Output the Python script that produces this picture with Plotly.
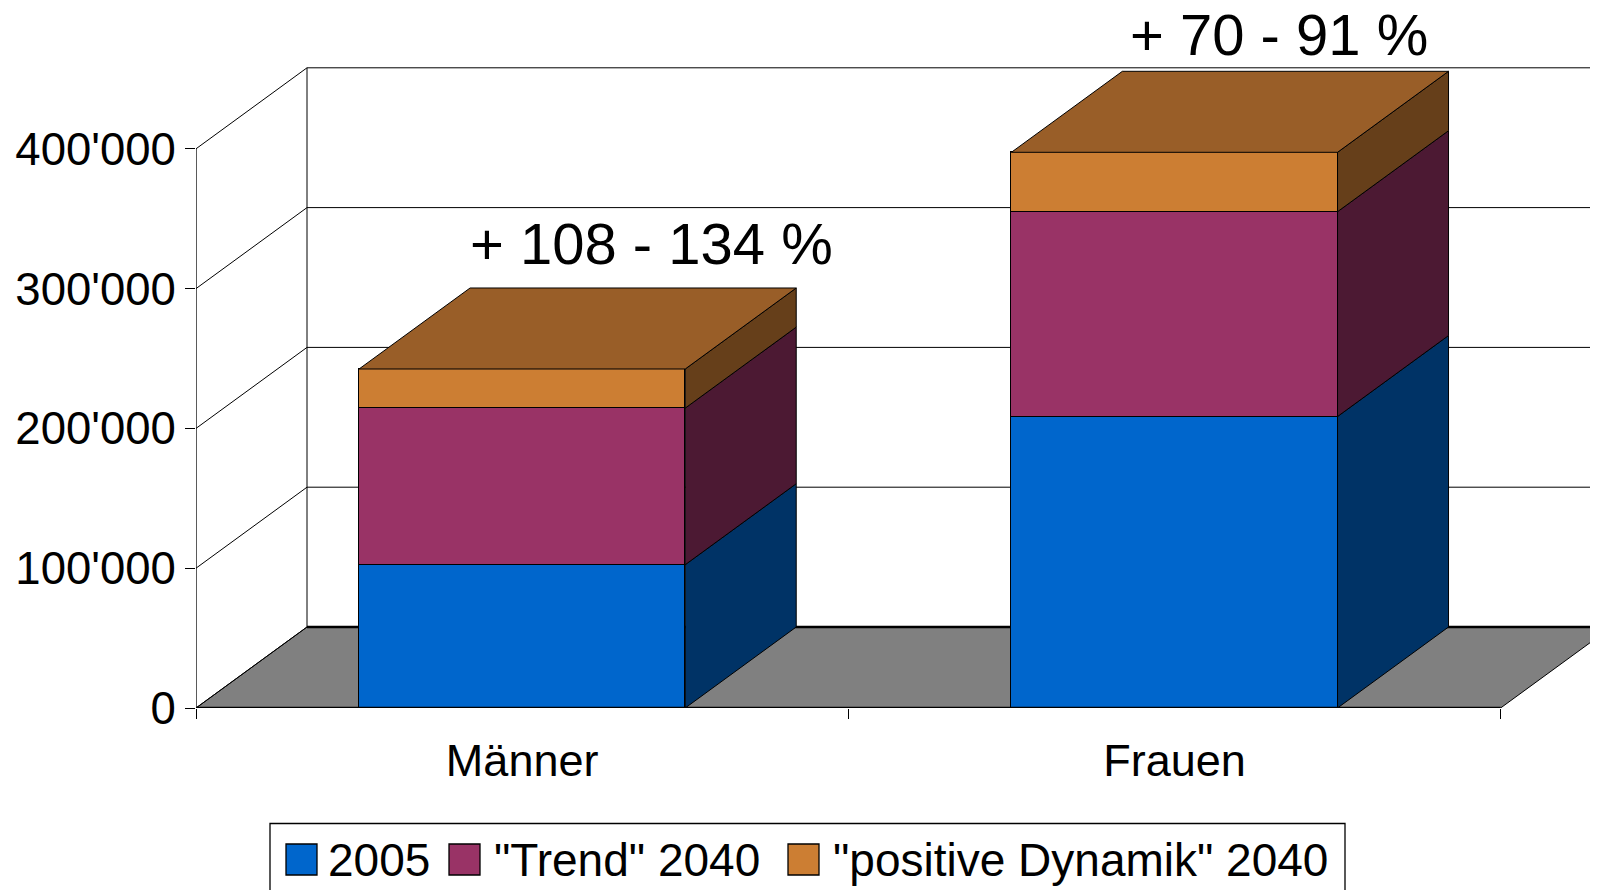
import plotly.graph_objects as go

# ---------------- data ----------------
categories = ["Männer", "Frauen"]
series_names = ["2005", "\"Trend\" 2040", "\"positive Dynamik\" 2040"]
values_2005 = [102500, 208500]
values_trend_2040 = [214500, 355000]          # total level, scenario "Trend"
values_positive_2040 = [242500, 397500]       # total level, scenario "positive Dynamik"
change_labels = ["+ 108 - 134 %", "+ 70 - 91 %"]
ytick_values = [0, 100000, 200000, 300000, 400000]
ytick_labels = ["0", "100'000", "200'000", "300'000", "400'000"]

# stacked increments
seg_trend = [t - a for t, a in zip(values_trend_2040, values_2005)]
seg_pos = [p - t for p, t in zip(values_positive_2040, values_trend_2040)]
segments = [values_2005, seg_trend, seg_pos]

# ---------------- styles / geometry ----------------
FONT = "Liberation Sans, Arial, sans-serif"
OFF = 8                         # page body margin
FIG_W, FIG_H = 1590, 882
M_L = 188
M_B = 182
PX_PER_CAT = 652.3
PX_PER_UNIT = 0.001398
plot_w = FIG_W - M_L
plot_h = FIG_H - M_B
x_range = [-0.5, -0.5 + plot_w / PX_PER_CAT]
y_range = [0, plot_h / PX_PER_UNIT]
DX = 111 / PX_PER_CAT          # depth offset (x, in category units)
DY = 81 / PX_PER_UNIT          # depth offset (y, in value units)
W = 0.5                        # bar width
X0, X1 = -0.5, len(categories) - 0.5

front_colors = ["#0066CC", "#993366", "#CC7E33"]
side_colors = ["#003366", "#4C1933", "#663F1A"]
top_colors = ["#004C99", "#732650", "#995E28"]

xs = list(range(len(categories)))

fig = go.Figure()

# front faces (real stacked bars)
for k, seg in enumerate(segments):
    fig.add_trace(go.Bar(
        x=xs, y=seg, width=W, name=series_names[k],
        marker=dict(color=front_colors[k], line=dict(color="black", width=1)),
        showlegend=False, hoverinfo="skip",
    ))

# side faces
bases = [[0] * len(xs)]
for k in range(1, len(segments)):
    bases.append([b + s for b, s in zip(bases[k - 1], segments[k - 1])])
for k, seg in enumerate(segments):
    px, py = [], []
    for i in xs:
        b = bases[k][i]
        t = b + seg[i]
        xr = i + W / 2
        px += [xr, xr + DX, xr + DX, xr, xr, None]
        py += [b, b + DY, t + DY, t, b, None]
    fig.add_trace(go.Scatter(
        x=px, y=py, mode="lines", fill="toself", fillcolor=side_colors[k],
        line=dict(color="black", width=1), showlegend=False, hoverinfo="skip",
    ))

# top faces
px, py = [], []
for i in xs:
    T = values_positive_2040[i]
    xl, xr = i - W / 2, i + W / 2
    px += [xl, xl + DX, xr + DX, xr, xl, None]
    py += [T, T + DY, T + DY, T, T, None]
fig.add_trace(go.Scatter(
    x=px, y=py, mode="lines", fill="toself", fillcolor=top_colors[2],
    line=dict(color="black", width=1), showlegend=False, hoverinfo="skip",
))

# ---------------- walls, floor, gridlines ----------------
shapes = []
shapes.append(dict(
    type="path", xref="x", yref="y", layer="below",
    path=f"M {X0},0 L {X1},0 L {X1 + DX},{DY} L {X0 + DX},{DY} Z",
    fillcolor="#808080", line=dict(color="black", width=1),
))
for v in ytick_values:
    shapes.append(dict(type="line", xref="x", yref="y", layer="below",
                       x0=X0 + DX, y0=v + DY, x1=x_range[1] + 0.2, y1=v + DY,
                       line=dict(color="black", width=2.5 if v == 0 else 1)))
    shapes.append(dict(type="line", xref="x", yref="y", layer="below",
                       x0=X0, y0=v, x1=X0 + DX, y1=v + DY,
                       line=dict(color="black", width=1)))
shapes.append(dict(type="line", xref="x", yref="y", layer="below",
                   x0=X0 + DX, y0=DY, x1=X0 + DX, y1=ytick_values[-1] + DY,
                   line=dict(color="black", width=1)))
shapes.append(dict(type="line", xref="x", yref="y", layer="below",
                   x0=X0, y0=0, x1=X0, y1=ytick_values[-1],
                   line=dict(color="black", width=1.3)))
shapes.append(dict(type="line", xref="x", yref="y", layer="above",
                   x0=X0, y0=0, x1=X1, y1=0,
                   line=dict(color="black", width=2.5)))


# ---------------- custom legend (positions in page pixels) ----------------
def pxx(p):
    return (p - OFF - M_L) / plot_w


def pxy(p):
    return (plot_h - (p - OFF)) / plot_h


shapes.append(dict(type="rect", xref="paper", yref="paper",
                   x0=pxx(270), x1=pxx(1345), y0=pxy(823.5), y1=pxy(910),
                   line=dict(color="black", width=1.3), fillcolor="white", layer="above"))
legend_sq_x = [286, 449, 788]
legend_txt_x = [326, 492, 831]
annotations = []
for k in range(3):
    shapes.append(dict(type="rect", xref="paper", yref="paper",
                       x0=pxx(legend_sq_x[k]), x1=pxx(legend_sq_x[k] + 31),
                       y0=pxy(844), y1=pxy(875),
                       fillcolor=front_colors[k], line=dict(color="black", width=1.3),
                       layer="above"))
    annotations.append(dict(xref="paper", yref="paper", x=pxx(legend_txt_x[k]), y=pxy(860),
                            text=series_names[k], showarrow=False, xanchor="left",
                            yanchor="middle", font=dict(family=FONT, size=46, color="black")))

# change labels
label_xshift = [18, -6]
label_yshift = [44, 37]
for i, txt in enumerate(change_labels):
    annotations.append(dict(xref="x", yref="y", x=i + DX, y=values_positive_2040[i] + DY,
                            text=txt, showarrow=False, xanchor="center", yanchor="middle",
                            xshift=label_xshift[i], yshift=label_yshift[i],
                            font=dict(family=FONT, size=58, color="black")))

fig.update_layout(
    width=FIG_W, height=FIG_H,
    margin=dict(l=M_L, r=0, t=0, b=M_B, pad=0),
    paper_bgcolor="white", plot_bgcolor="white",
    barmode="stack", bargap=0,
    showlegend=False,
    font=dict(family=FONT, size=45, color="black"),
    shapes=shapes, annotations=annotations,
    xaxis=dict(range=x_range, tickmode="array", tickvals=xs, ticktext=categories,
               ticks="", showgrid=False, zeroline=False, showline=False,
               tickfont=dict(family=FONT, size=45, color="black"),
               ticklabelstandoff=22, automargin=False, fixedrange=True,
               minor=dict(tickmode="array", tickvals=[X0 + j for j in range(len(categories) + 1)],
                          ticks="outside", ticklen=10, tickcolor="black", tickwidth=1.3,
                          showgrid=False)),
    yaxis=dict(range=y_range, tickmode="array", tickvals=ytick_values, ticktext=ytick_labels,
               ticks="outside", ticklen=10, tickcolor="black", tickwidth=1.3,
               showgrid=False, zeroline=False, showline=False,
               tickfont=dict(family=FONT, size=45.5, color="black"),
               ticklabelstandoff=0, automargin=False, fixedrange=True),
)

fig.write_html("out.html")
